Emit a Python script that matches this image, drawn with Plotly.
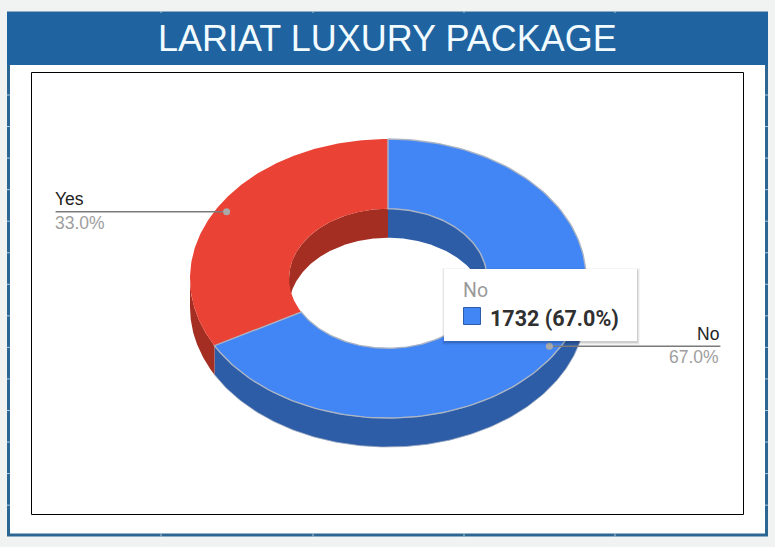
import numpy as np
import plotly.graph_objects as go

# Data
categories = ["No", "Yes"]
counts = [1732, 853]
slice_colors = ["#4285f4", "#ea4335"]
wall_colors = ["#2e5da8", "#a52e23"]
chart_title = "LARIAT LUXURY PACKAGE"

WIDTH, HEIGHT = 775, 547
CX, CY = 388.0, 278.5
RX, RY = 198.0, 139.5
HOLE = 0.5
DEPTH = 29.0
LABEL_RADIUS = 0.947

total = sum(counts)
shares = [c / total for c in counts]
edges = np.cumsum([0.0] + shares) * 2 * np.pi


def arc(start, end, radius=1.0, drop=0.0, n=160):
    """Points on the tilted ring; angles run clockwise from twelve o'clock."""
    t = np.linspace(start, end, n)
    return CX + radius * RX * np.sin(t), CY - radius * RY * np.cos(t) + drop


def band(start, end, r_a, drop_a, r_b, drop_b):
    xa, ya = arc(start, end, r_a, drop_a)
    xb, yb = arc(end, start, r_b, drop_b)
    return np.r_[xa, xb, xa[0]], np.r_[ya, yb, ya[0]]


def polygon(x, y, fill, line=None, width=0):
    return go.Scatter(
        x=x, y=y, mode="lines", fill="toself", fillcolor=fill,
        line=dict(color=line or fill, width=width if line else 0),
        hoverinfo="skip", showlegend=False,
    )


fig = go.Figure()

# Side walls: the outer front half, then the far half of the hole
FRONT = (np.pi / 2, 3 * np.pi / 2)
for i in range(len(counts)):
    lo, hi = max(edges[i], FRONT[0]), min(edges[i + 1], FRONT[1])
    if lo < hi:
        x, y = band(lo, hi, 1.0, 0.0, 1.0, DEPTH)
        fig.add_trace(polygon(x, y, wall_colors[i], "#9aa7bd" if i == 0 else None, 0.8))

for i in range(len(counts)):
    for lo, hi in [(0.0, FRONT[0]), (FRONT[1], 2 * np.pi)]:
        a, b = max(edges[i], lo), min(edges[i + 1], hi)
        if a < b:
            x, y = band(a, b, HOLE, 0.0, HOLE, DEPTH)
            fig.add_trace(polygon(x, y, wall_colors[i]))

# Top faces, the highlighted slice last so its outline stays on top
for i in reversed(range(len(counts))):
    x, y = band(edges[i], edges[i + 1], 1.0, 0.0, HOLE, 0.0)
    fig.add_trace(polygon(x, y, slice_colors[i], "#aab4c4" if i == 0 else None, 1.4))

# Leader lines with their anchor dots and labels
annotations = []
LEAD_LEN = 171
for i, name in enumerate(categories):
    mid = (edges[i] + edges[i + 1]) / 2
    ax = CX + LABEL_RADIUS * RX * np.sin(mid)
    ay = CY - LABEL_RADIUS * RY * np.cos(mid)
    right = np.sin(mid) > 0
    end = ax + LEAD_LEN if right else ax - LEAD_LEN
    fig.add_trace(go.Scatter(
        x=[ax, end], y=[ay + 0.4, ay + 0.4], mode="lines",
        line=dict(color="#7a7a7a", width=1.5),
        hoverinfo="skip", showlegend=False,
    ))
    fig.add_trace(go.Scatter(
        x=[ax], y=[ay + 0.4], mode="markers",
        marker=dict(color="#a9a9a9", size=7),
        hoverinfo="skip", showlegend=False,
    ))
    anchor = "right" if right else "left"
    nudge = 1 if right else -3
    annotations.append(dict(
        x=end, y=ay, xshift=nudge, text=name, xanchor=anchor, yanchor="bottom",
        showarrow=False, font=dict(family="Liberation Sans", size=17.5, color="#222222"),
    ))
    annotations.append(dict(
        x=end, y=ay - 0.5, xshift=nudge, text=f"{shares[i] * 100:.1f}%", xanchor=anchor, yanchor="top",
        showarrow=False, font=dict(family="Liberation Sans", size=17.5, color="#9e9e9e"),
    ))

# Page furniture: card, header band and inner frame sit under the traces
BLUE = "#1f64a0"
shapes = [
    dict(type="rect", x0=8.5, y0=13, x1=766.5, y1=535, layer="below",
         line=dict(color="#2c6692", width=3), fillcolor="#ffffff"),
    dict(type="rect", x0=7, y0=12, x1=768, y1=65, layer="below",
         line=dict(width=0), fillcolor=BLUE),
    dict(type="rect", x0=31.5, y0=72.5, x1=743.5, y1=514.5, layer="below",
         line=dict(color="#000000", width=1), fillcolor="#ffffff"),
]

# Faint cell gridline stubs that cross the card's border
TICK = "#a9c8da"
for ty in np.arange(95.0, 510.0, 31.55):
    for x0, x1 in [(7, 10), (765, 768)]:
        shapes.append(dict(type="line", x0=x0, x1=x1, y0=ty, y1=ty, layer="below",
                           line=dict(color=TICK, width=1)))
for tx in [161, 313, 464, 615]:
    shapes.append(dict(type="line", x0=tx, x1=tx, y0=11, y1=13, layer="below",
                       line=dict(color=TICK, width=1)))
    shapes.append(dict(type="line", x0=tx, x1=tx, y0=533.5, y1=536.5, layer="below",
                       line=dict(color=TICK, width=1)))

# Tooltip for the highlighted slice, with a soft drop shadow
TIP = (444, 269, 637, 341)
for spread, alpha in [(3, 0.04), (2, 0.06), (1, 0.10)]:
    shapes.append(dict(
        type="rect", x0=TIP[0] - spread + 1, y0=TIP[1] - spread + 2,
        x1=TIP[2] + spread, y1=TIP[3] + spread + 1, layer="above",
        line=dict(width=0), fillcolor=f"rgba(0,0,0,{alpha})",
    ))
shapes.append(dict(
    type="rect", x0=TIP[0], y0=TIP[1], x1=TIP[2], y1=TIP[3], layer="above",
    line=dict(width=0), fillcolor="#ffffff",
))
shapes.append(dict(
    type="rect", x0=463.5, y0=307.5, x1=480.5, y1=324.5, layer="above",
    line=dict(color="#2e5da8", width=1), fillcolor=slice_colors[0],
))

annotations += [
    dict(x=387.5, y=38, text=chart_title, xanchor="center", yanchor="middle", showarrow=False,
         font=dict(family="Liberation Sans", size=36, color="#f2fbff")),
    dict(x=461, y=290, text=categories[0], xanchor="left", yanchor="middle", showarrow=False,
         font=dict(family="Roboto", size=19.5, color="#9a9a9a")),
    dict(x=488, y=318, text=f"<b>{counts[0]} ({shares[0] * 100:.1f}%)</b>",
         xanchor="left", yanchor="middle", showarrow=False,
         font=dict(family="Roboto", size=21.5, color="#303030")),
]

fig.update_layout(
    width=WIDTH, height=HEIGHT, margin=dict(l=0, r=0, t=0, b=0),
    paper_bgcolor="#f1f3f3", plot_bgcolor="rgba(0,0,0,0)",
    xaxis=dict(range=[0, WIDTH], visible=False, fixedrange=True),
    yaxis=dict(range=[HEIGHT, 0], visible=False, fixedrange=True),
    shapes=shapes, annotations=annotations, showlegend=False,
)

fig.write_html("out.html")
